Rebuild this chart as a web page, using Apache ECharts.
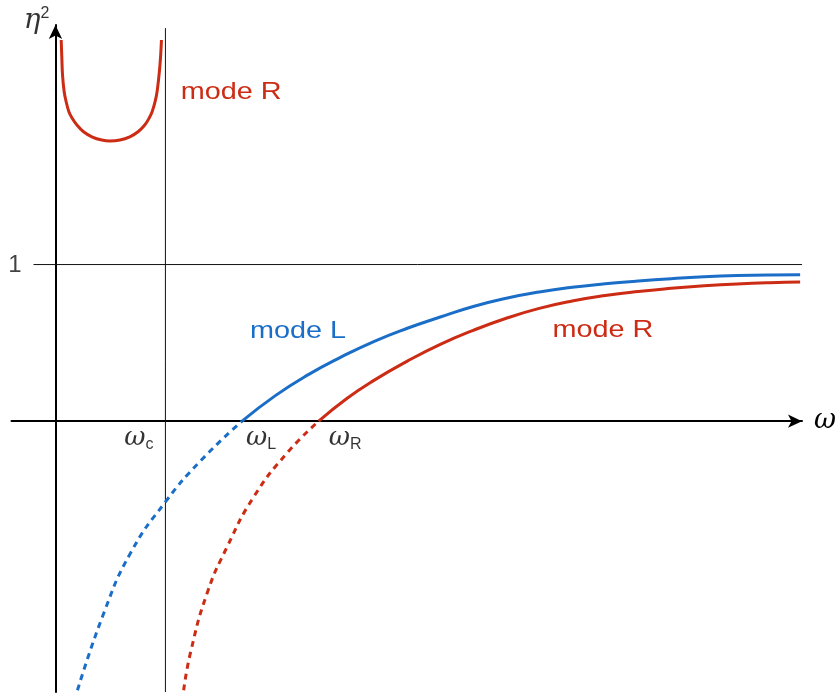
<!DOCTYPE html>
<html><head><meta charset="utf-8">
<script src="https://cdn.jsdelivr.net/npm/echarts@6/dist/echarts.min.js"></script>
<style>html,body{margin:0;padding:0;background:#fff}#c{width:840px;height:700px}</style>
</head><body><div id="c"></div>
<script>
// ω and η² (ω in units of ωc, η² in units of 1)
const upperR = [[0.052,2.434],[0.058,2.317],[0.064,2.211],[0.079,2.104],[0.097,2.040],[0.122,1.976],[0.152,1.934],[0.195,1.891],[0.255,1.848],[0.331,1.816],[0.421,1.795],[0.496,1.789],[0.586,1.795],[0.676,1.816],[0.751,1.848],[0.812,1.891],[0.851,1.934],[0.879,1.976],[0.906,2.040],[0.924,2.104],[0.942,2.211],[0.955,2.317],[0.964,2.434]];
const modeLDashed = [[0.200,-1.719],[0.439,-1.227],[0.682,-0.843],[1.000,-0.516],[1.318,-0.255],[1.697,0]];
const modeLSolid = [[1.697,0],[2.0,0.163],[2.3,0.297],[2.6,0.41],[2.9,0.51],[3.2,0.593],[3.5,0.665],[3.8,0.732],[4.1,0.785],[4.4,0.825],[4.7,0.855],[5.0,0.877],[5.3,0.895],[5.6,0.91],[5.9,0.922],[6.2,0.93],[6.5,0.934],[6.773,0.935]];
const modeRDashed = [[1.166,-1.719],[1.227,-1.482],[1.379,-1.099],[1.561,-0.803],[1.803,-0.484],[2.106,-0.204],[2.394,0]];
const modeRSolid = [[2.394,0],[2.65,0.145],[2.9,0.262],[3.2,0.383],[3.5,0.49],[3.8,0.58],[4.1,0.657],[4.4,0.72],[4.7,0.767],[5.0,0.802],[5.3,0.828],[5.6,0.848],[5.9,0.864],[6.2,0.876],[6.5,0.884],[6.773,0.888]];
const omegaC = 1, omegaL = 1.697, omegaR = 2.394;
const xRange = [-0.4, 6.79];
const yRange = [-1.73, 2.53];
const modeLabels = [
  {text:'mode R', at:[1.14, 2.10], color:'#cc2b14'},
  {text:'mode L', at:[1.77, 0.575], color:'#1b6ec8'},
  {text:'mode R', at:[4.52, 0.58], color:'#cc2b14'}
];

const BLUE = '#1b6ec8', RED = '#cc2b14';
const chart = echarts.init(document.getElementById('c'), null, {renderer:'canvas'});
const omegaFont = 'DejaVu Serif';
const sub = () => ({rich:{w:{fontFamily:omegaFont,fontStyle:'italic',fontSize:26,color:'#000'},s:{fontFamily:'Liberation Sans',fontSize:16,color:'#000',padding:[11,0,0,0]}}});
function tickLabel(x, name, pos, align){
  return {value:[x,0], label:Object.assign({show:true, formatter:'{w|ω}{s|'+name+'}', position:pos, align:align, verticalAlign:'top'}, sub())};
}
chart.setOption({
  animation:false,
  grid:{left:11.5, right:38, top:25, bottom:8},
  xAxis:{type:'value', min:xRange[0], max:xRange[1],
    axisLine:{show:true, onZero:true, symbol:['none','arrow'], symbolSize:[10,14], lineStyle:{color:'#000', width:2}},
    axisTick:{show:false}, axisLabel:{show:false}, splitLine:{show:false},
    name:'ω', nameLocation:'end', nameGap:12,
    nameTextStyle:{fontFamily:omegaFont, fontStyle:'italic', fontSize:27, color:'#000', verticalAlign:'middle', padding:[6,0,0,0]}},
  yAxis:{type:'value', min:yRange[0], max:yRange[1],
    axisLine:{show:true, onZero:true, symbol:['none','arrow'], symbolSize:[10,14], lineStyle:{color:'#000', width:2}},
    axisTick:{show:false}, axisLabel:{show:false}, splitLine:{show:false}},
  series:[
    {type:'line', data:[[omegaC,yRange[0]],[omegaC,2.51]], symbol:'none', lineStyle:{color:'#111', width:1}, z:1},
    {type:'line', data:[[-0.2,1],[xRange[1],1]], symbol:'none', lineStyle:{color:'#111', width:1}, z:1},
    {type:'line', data:upperR, smooth:0.35, symbol:'none', lineStyle:{color:RED, width:3}},
    {type:'line', data:modeLDashed, smooth:true, symbol:'none', lineStyle:{color:BLUE, width:3, type:[6,5]}},
    {type:'line', data:modeLSolid, smooth:true, symbol:'none', lineStyle:{color:BLUE, width:3}},
    {type:'line', data:modeRDashed, smooth:true, symbol:'none', lineStyle:{color:RED, width:3, type:[6,5]}},
    {type:'line', data:modeRSolid, smooth:true, symbol:'none', lineStyle:{color:RED, width:3}},
    {type:'scatter', symbolSize:0, silent:true, z:5, data:[
      tickLabel(omegaC,'c',[-12,4],'right'),
      tickLabel(omegaL,'L',[4,4],'left'),
      tickLabel(omegaR,'R',[10,4],'left'),
      {value:[-0.2,1], label:{show:true, formatter:'1', position:[-12,1], align:'right', verticalAlign:'middle', fontFamily:'Liberation Sans', fontSize:24, color:'#111'}},
      {value:[0,yRange[1]], label:{show:true, formatter:'{e|η}{t|2}', position:[-6,-4], align:'right', verticalAlign:'middle',
        rich:{e:{fontFamily:omegaFont,fontStyle:'italic',fontSize:28,color:'#000'},t:{fontFamily:'Liberation Sans',fontSize:16,color:'#000',padding:[0,0,14,0]}}}}
    ]}
  ]
});
chart.setOption({graphic: modeLabels.map(m => {
  const p = chart.convertToPixel({gridIndex:0}, m.at);
  return {type:'text', x:p[0], y:p[1], scaleX:1.2, z:10, silent:true,
    style:{text:m.text, fill:m.color, font:'24px "Liberation Sans"', textAlign:'left', textVerticalAlign:'middle'}};
})});
</script></body></html>
